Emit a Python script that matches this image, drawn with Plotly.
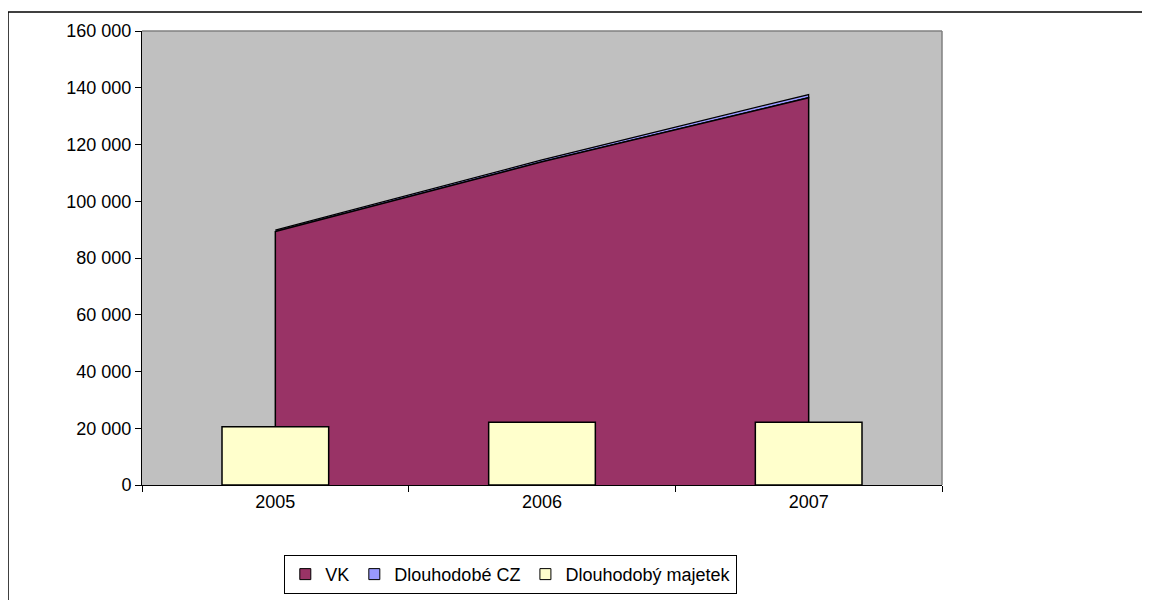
import plotly.graph_objects as go

# Data
years = ["2005", "2006", "2007"]
vk = [89300, 113900, 136500]          # VK
dlouhodobe_cz = [500, 700, 1100]      # Dlouhodobé CZ (thin band on top of VK)
dlouhodoby_majetek = [20500, 22100, 22100]
y_ticks = [0, 20000, 40000, 60000, 80000, 100000, 120000, 140000, 160000]

colours = {
    "vk": "#993366",
    "cz": "#9999FF",
    "majetek": "#FFFFCC",
    "plot_bg": "#C0C0C0",
}

font = dict(family="Liberation Sans, Arial, sans-serif", size=18, color="#000000")

fig = go.Figure()

# Stacked area drawn as closed polygons so the Excel-style outline appears on the edges
cz_top = [a + b for a, b in zip(vk, dlouhodobe_cz)]
fig.add_trace(go.Scatter(
    x=years + years[::-1],
    y=cz_top + vk[::-1],
    fill="toself", fillcolor=colours["cz"],
    line=dict(color="#000000", width=1.2),
    mode="lines", showlegend=False, hoverinfo="skip"))
fig.add_trace(go.Scatter(
    x=[years[0]] + years + [years[-1]],
    y=[0] + vk + [0],
    fill="toself", fillcolor=colours["vk"],
    line=dict(color="#000000", width=1.5),
    mode="lines", showlegend=False, hoverinfo="skip"))

# Bars on an overlaid axis so they sit on top of the area
fig.add_trace(go.Bar(
    x=years, y=dlouhodoby_majetek,
    xaxis="x2", yaxis="y2",
    width=0.4,
    marker=dict(color=colours["majetek"], line=dict(color="#000000", width=1.5)),
    showlegend=False, hoverinfo="skip"))

# Legend entries
for name, key in [("VK", "vk"), ("Dlouhodobé CZ", "cz"), ("Dlouhodobý majetek", "majetek")]:
    fig.add_trace(go.Scatter(
        x=[None], y=[None], mode="markers", name=name,
        marker=dict(symbol="square", size=11, color=colours[key],
                    line=dict(color="#000000", width=1))))

fig.update_layout(
    width=1150, height=600,
    margin=dict(l=134, r=216, t=23, b=123),
    paper_bgcolor="#FFFFFF",
    plot_bgcolor=colours["plot_bg"],
    font=font,
    separators=", ",
    xaxis=dict(type="category", categoryorder="array", categoryarray=years,
               range=[-0.5, 2.5], tickson="boundaries", ticks="outside",
               ticklen=6, tickcolor="#000000", showline=True, linecolor="#000000",
               linewidth=1, showgrid=False, zeroline=False, fixedrange=True),
    yaxis=dict(range=[0, 160000], tickvals=y_ticks, tickformat=",d",
               ticks="outside", ticklen=6, tickcolor="#000000", showline=True,
               linecolor="#000000", linewidth=1, showgrid=False, zeroline=False,
               fixedrange=True),
    xaxis2=dict(type="category", categoryorder="array", categoryarray=years,
                range=[-0.5, 2.5], overlaying="x", visible=False),
    yaxis2=dict(range=[0, 160000], overlaying="y", visible=False),
    legend=dict(orientation="h", x=0.461, xanchor="center", y=-0.154, yanchor="top",
                bgcolor="#FFFFFF", bordercolor="#000000", borderwidth=1,
                font=dict(size=18), itemwidth=30, tracegroupgap=0),
    showlegend=True,
    shapes=[
        # plot area border (top and right)
        dict(type="line", xref="paper", yref="paper", x0=0, x1=1, y0=1, y1=1,
             line=dict(color="#808080", width=1.5)),
        dict(type="line", xref="paper", yref="paper", x0=1, x1=1, y0=0, y1=1,
             line=dict(color="#808080", width=1.5)),
        # outer chart border (left and top, runs off the image)
        dict(type="line", xref="paper", yref="paper", x0=-0.1675, x1=-0.1675,
             y0=-0.3, y1=1.0418, line=dict(color="#000000", width=1.5)),
        dict(type="line", xref="paper", yref="paper", x0=-0.1675, x1=1.3,
             y0=1.0418, y1=1.0418, line=dict(color="#000000", width=1.5)),
    ],
)

fig.write_html("out.html")
